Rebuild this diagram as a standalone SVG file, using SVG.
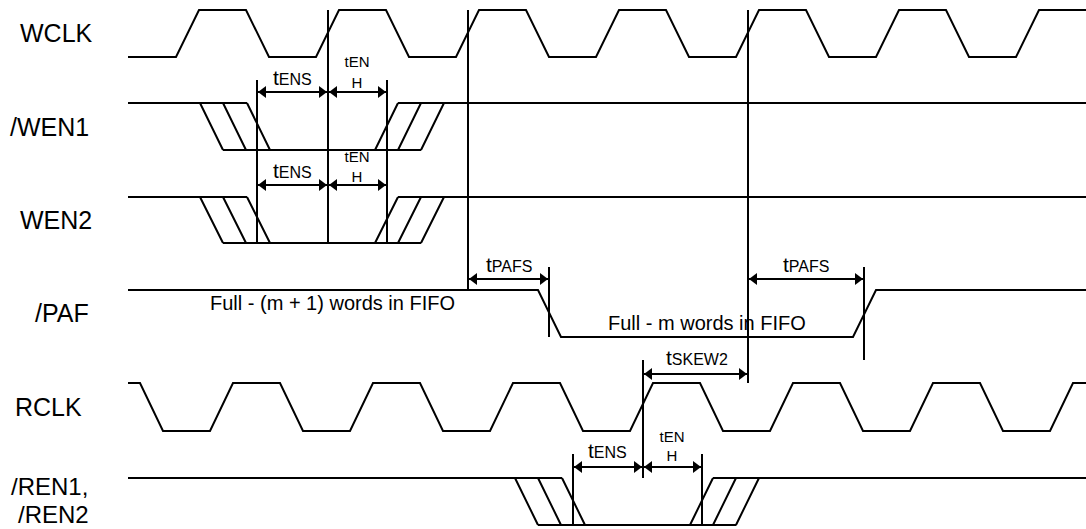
<svg xmlns="http://www.w3.org/2000/svg" width="1086" height="529" viewBox="0 0 1086 529">
<style>
.w{fill:none;stroke:#000;stroke-width:2;stroke-linejoin:miter}
.v{fill:none;stroke:#000;stroke-width:2}
.a{fill:none;stroke:#000;stroke-width:2;marker-start:url(#ah);marker-end:url(#ah)}
.lbl{font-family:"Liberation Sans",Arial,sans-serif;font-size:25px;fill:#000}
.lbl2{font-family:"Liberation Sans",Arial,sans-serif;font-size:24px;fill:#000}
.txt{font-family:"Liberation Sans",Arial,sans-serif;font-size:20px;fill:#000}
.t{font-family:"Liberation Sans",Arial,sans-serif;font-size:21px;fill:#000}
.s{font-size:16px}
.sm{font-family:"Liberation Sans",Arial,sans-serif;font-size:15px;fill:#000;text-anchor:middle}
</style>
<defs>
<marker id="ah" viewBox="0 0 8 12" refX="8" refY="6" markerWidth="8" markerHeight="12" markerUnits="userSpaceOnUse" orient="auto-start-reverse">
<path d="M0,0 L8,6 L0,12 Z" fill="#000"/>
</marker>
</defs>
<rect width="1086" height="529" fill="#fff"/>

<g id="wclk">
<text class="lbl" x="20" y="42">WCLK</text>
<path class="w" d="M128,57 H176 L199,10 H246 L269,57 H316 L339,10 H386 L409,57 H456 L479,10 H526 L549,57 H596 L619,10 H666 L689,57 H736 L759,10 H806 L829,57 H876 L899,10 H946 L969,57 H1016 L1039,10 H1086"/>
</g>

<g id="wen1">
<text class="lbl" x="10" y="136">/WEN1</text>
<path class="w" d="M128,103 H247 M200,103 L223,150 M223,103 L246,150 M247,103 L270,150 M223,150 H421 M375,150 L398,103 M398,150 L421,103 M421,150 L444,103 M398,103 H1086"/>
</g>

<g id="wen2">
<text class="lbl" x="20" y="229">WEN2</text>
<path class="w" d="M128,197 H247 M200,197 L223,243 M223,197 L246,243 M247,197 L270,243 M223,243 H421 M375,243 L398,197 M398,243 L421,197 M421,243 L444,197 M398,197 H1086"/>
</g>

<g id="paf">
<text class="lbl" x="35" y="322">/PAF</text>
<path class="w" d="M128,290 H538 L561,337 H853 L876,290 H1086"/>
<text class="txt" x="210" y="310">Full - (m + 1) words in FIFO</text>
<text class="txt" x="608" y="330">Full - m words in FIFO</text>
</g>

<g id="rclk">
<text class="lbl" x="15" y="416">RCLK</text>
<path class="w" d="M128,383 H140 L163,431 H210 L233,383 H280 L303,431 H350 L373,383 H420 L443,431 H490 L513,383 H560 L583,431 H630 L653,383 H700 L723,431 H770 L793,383 H840 L863,431 H910 L933,383 H980 L1003,431 H1050 L1073,383 H1086"/>
</g>

<g id="ren">
<text class="lbl2" x="11" y="495">/REN1,</text>
<text class="lbl2" x="18" y="523">/REN2</text>
<path class="w" d="M128,478 H562 M515,478 L538,525 M538,478 L561,525 M562,478 L585,525 M538,525 H736 M690,525 L713,478 M713,525 L736,478 M736,525 L759,478 M713,478 H1086"/>
</g>

<g id="connectors">
<line class="v" x1="257" y1="80" x2="257" y2="243"/>
<line class="v" x1="328" y1="10" x2="328" y2="243"/>
<line class="v" x1="387" y1="80" x2="387" y2="243"/>
<line class="v" x1="468" y1="10" x2="468" y2="290"/>
<line class="v" x1="748" y1="10" x2="748" y2="383"/>
<line class="v" x1="549" y1="267" x2="549" y2="337"/>
<line class="v" x1="864" y1="267" x2="864" y2="360"/>
<line class="v" x1="643" y1="360" x2="643" y2="478"/>
<line class="v" x1="573" y1="454" x2="573" y2="525"/>
<line class="v" x1="702" y1="454" x2="702" y2="525"/>

<line class="a" x1="258" y1="92" x2="327" y2="92"/>
<line class="a" x1="329" y1="92" x2="386" y2="92"/>
<line class="a" x1="258" y1="185" x2="327" y2="185"/>
<line class="a" x1="329" y1="185" x2="386" y2="185"/>
<line class="a" x1="469" y1="279" x2="548" y2="279"/>
<line class="a" x1="749" y1="279" x2="863" y2="279"/>
<line class="a" x1="644" y1="374" x2="747" y2="374"/>
<line class="a" x1="574" y1="467" x2="642" y2="467"/>
<line class="a" x1="644" y1="467" x2="701" y2="467"/>

<text class="t" x="273" y="85">t<tspan class="s">ENS</tspan></text>
<text class="sm" x="357" y="67">tEN</text>
<text class="sm" x="357" y="88">H</text>
<text class="t" x="273" y="178">t<tspan class="s">ENS</tspan></text>
<text class="sm" x="357" y="162">tEN</text>
<text class="sm" x="357" y="182">H</text>
<text class="t" x="486" y="272">t<tspan class="s">PAFS</tspan></text>
<text class="t" x="783" y="272">t<tspan class="s">PAFS</tspan></text>
<text class="t" x="666" y="365">t<tspan class="s">SKEW2</tspan></text>
<text class="t" x="588" y="458">t<tspan class="s">ENS</tspan></text>
<text class="sm" x="672" y="442">tEN</text>
<text class="sm" x="672" y="461">H</text>
</g>
</svg>
